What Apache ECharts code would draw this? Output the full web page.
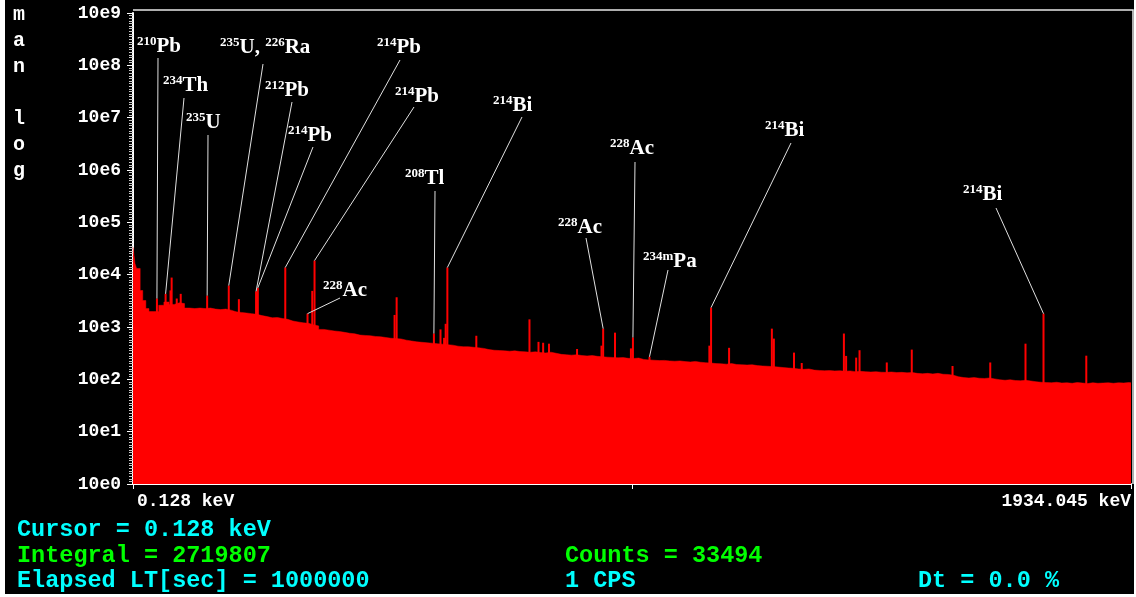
<!DOCTYPE html>
<html>
<head>
<meta charset="utf-8">
<script src="https://cdn.jsdelivr.net/npm/echarts@6/dist/echarts.min.js"></script>
<style>
  html, body { margin: 0; padding: 0; background: #fff; width: 1136px; height: 597px; overflow: hidden; }
  #chart { position: absolute; left: 5px; top: 0; width: 1129px; height: 594px; background: #000; }
</style>
</head>
<body>
<div id="chart"></div>
<script>
// Energy range of the spectrum (keV)
const E_MIN = 0.128;
const E_MAX = 1934.045;

// First few channels (left bin edge in keV, counts)
const lowEdgeEnergy = [0.128, 4, 7, 14, 19, 25, 31];
const lowEdgeCounts = [33494, 16400, 13150, 4980, 3200, 2250, 1970];

// Continuum, 10 keV bins starting at 40 keV (counts per bin)
const binStart = 40;
const binWidth = 10;
const binCounts = [
  1970, 2600, 3000, 2700, 2900, 2800, 2300, 2250, 2300, 2250,
  2300, 2200, 2150, 2200, 2100, 1950, 1900, 1850, 1800, 1750,
  1650, 1580, 1500, 1520, 1450, 1400, 1300, 1250, 1200, 1180,
  1100, 1050, 900, 870, 840, 820, 790, 760, 740, 700,
  690, 680, 660, 650, 630, 610, 600, 590, 560, 540,
  520, 510, 500, 490, 480, 470, 460, 450, 430, 420,
  420, 410, 400, 390, 370, 360, 355, 350, 345, 350,
  340, 335, 330, 335, 325, 320, 330, 315, 300, 295,
  290, 295, 285, 280, 285, 275, 270, 265, 262, 258,
  260, 252, 250, 255, 240, 235, 232, 228, 230, 225,
  222, 225, 218, 215, 220, 212, 208, 205, 200, 198,
  195, 200, 192, 190, 188, 190, 183, 180, 178, 175,
  172, 168, 165, 162, 158, 155, 158, 150, 148, 146,
  147, 145, 146, 143, 145, 140, 142, 140, 138, 140,
  137, 136, 138, 135, 136, 133, 135, 130, 128, 130,
  127, 130, 125, 124, 120, 112, 108, 106, 108, 105,
  104, 106, 102, 98, 96, 98, 95, 94, 96, 93,
  90, 88, 87, 86, 88, 85, 86, 84, 87, 85,
  83, 86, 84, 85, 86, 84, 86, 85, 87, 86
];

// Photopeaks (keV, peak-channel counts)
const peakEnergy = [
  46.5, 63.3, 72.8, 75.0, 84.9, 92.6, 143.8, 185.7, 205.3, 238.6,
  242.0, 295.2, 338.3, 347.5, 351.9, 507.0, 511.0, 583.2, 596.0, 603.0,
  606.0, 609.3, 665.4, 768.4, 785.9, 794.9, 806.2, 860.6, 908.0, 911.2,
  934.1, 965.0, 968.9, 1001.0, 1117.0, 1120.3, 1155.2, 1238.1, 1242.0, 1281.0,
  1296.0, 1377.7, 1382.0, 1401.5, 1408.0, 1460.8, 1509.2, 1588.2, 1661.3, 1729.6,
  1764.5, 1847.4
];
const peakCounts = [
  3500, 4300, 5000, 8800, 3500, 4300, 3970, 6200, 3400, 4800,
  5600, 13700, 1800, 4900, 18600, 1700, 3700, 750, 900, 620,
  1150, 13700, 680, 1400, 520, 500, 480, 380, 440, 930,
  780, 390, 630, 270, 440, 2350, 400, 930, 600, 324,
  205, 750, 280, 260, 360, 210, 370, 180, 210, 480,
  1800, 283
];

// Identified nuclides: peak energy and [mass number, symbol] parts
const labelEnergy = [46.5, 63.3, 143.8, 185.7, 238.6, 242.0, 295.2, 351.9, 338.3, 583.2, 609.3, 911.2, 968.9, 1001.0, 1120.3, 1764.5];
const labelParts = [
  [['210', 'Pb']], [['234', 'Th']], [['235', 'U']], [['235', 'U, '], ['226', 'Ra']],
  [['212', 'Pb']], [['214', 'Pb']], [['214', 'Pb']], [['214', 'Pb']],
  [['228', 'Ac']], [['208', 'Tl']], [['214', 'Bi']], [['228', 'Ac']],
  [['228', 'Ac']], [['234m', 'Pa']], [['214', 'Bi']], [['214', 'Bi']]
];
// Label placement in pixels: [text left, text middle, leader top x, leader top y]
const labelLayout = [
  [132, 46, 153, 58], [158, 85, 179, 98], [181, 122, 203, 135], [215, 47, 258, 64],
  [260, 90, 287, 102], [283, 135, 308, 147], [372, 47, 395, 60], [390, 96, 409, 107],
  [318, 290, 335, 298], [400, 178, 430, 191], [488, 105, 517, 117], [553, 227, 581, 238],
  [605, 148, 630, 162], [638, 261, 663, 270], [760, 130, 786, 143], [958, 194, 991, 208]
];

// Build the stepped continuum
const continuum = [];
lowEdgeEnergy.forEach((e, i) => continuum.push([e, lowEdgeCounts[i]]));
binCounts.forEach((c, i) => continuum.push([binStart + i * binWidth, c]));
continuum.push([E_MAX, binCounts[binCounts.length - 1]]);

const peaks = peakEnergy.map((e, i) => [e, peakCounts[i]]);
const labelData = labelEnergy.map((e, i) => [e, peakCounts[peakEnergy.indexOf(e)], i]);

const RED = '#ff0000';
const MONO = 'Liberation Mono';
const SERIF = 'Liberation Serif';

const supStyle = { fontFamily: SERIF, fontWeight: 'bold', fontSize: 13, lineHeight: 13, verticalAlign: 'top', fill: '#ffffff' };
const mainStyle = { fontFamily: SERIF, fontWeight: 'bold', fontSize: 21, lineHeight: 22, verticalAlign: 'bottom', fill: '#ffffff' };

function infoText(x, y, text, color) {
  return {
    type: 'text', x: x, y: y, silent: true,
    style: { text: text, fill: color, font: 'bold 23.5px "' + MONO + '"', align: 'left', verticalAlign: 'middle' }
  };
}

const chart = echarts.init(document.getElementById('chart'), null, { renderer: 'canvas' });

chart.setOption({
  backgroundColor: '#000',
  animation: false,
  grid: { left: 128, right: 1, top: 13, bottom: 110, containLabel: false },
  xAxis: {
    type: 'value',
    min: E_MIN,
    max: E_MAX,
    axisLine: { show: true, lineStyle: { color: '#ffffff', width: 2 } },
    axisTick: { show: true, customValues: [E_MIN, (E_MIN + E_MAX) / 2, E_MAX], length: 5, lineStyle: { color: '#ffffff', width: 1 } },
    axisLabel: {
      show: true,
      customValues: [E_MIN, E_MAX],
      formatter: v => v.toFixed(3) + ' keV',
      alignMinLabel: 'left',
      alignMaxLabel: 'right',
      padding: [0, 0, 0, 4],
      color: '#ffffff', fontFamily: MONO, fontWeight: 'bold', fontSize: 18, margin: 8
    },
    splitLine: { show: false }
  },
  yAxis: [
    {
      type: 'log',
      logBase: 10,
      min: 1,
      max: 1e9,
      splitNumber: 9,
      axisLine: { show: true, lineStyle: { color: '#ffffff', width: 2 } },
      axisTick: { show: true, length: 6, lineStyle: { color: '#ffffff', width: 1 } },
      splitLine: { show: false },
      axisLabel: {
        color: '#ffffff', fontFamily: MONO, fontWeight: 'bold', fontSize: 18, margin: 12,
        formatter: v => '10e' + Math.round(Math.log10(v))
      }
    },
    {
      // decade scale used only for the fine ruler marks along the count axis
      type: 'value',
      position: 'left',
      min: 0,
      max: 9,
      interval: 1,
      axisLine: { show: false },
      axisTick: { show: false },
      axisLabel: { show: false },
      splitLine: { show: false },
      minorTick: { show: true, splitNumber: 20, length: 4, lineStyle: { color: '#c8c8c8', width: 1 } },
      minorSplitLine: { show: false }
    }
  ],
  series: [
    {
      name: 'continuum',
      type: 'line',
      data: continuum,
      step: 'end',
      showSymbol: false,
      symbol: 'none',
      sampling: 'none',
      lineStyle: { width: 0.5, color: RED },
      areaStyle: { color: RED, opacity: 1, origin: 'start' },
      z: 2,
      silent: true
    },
    {
      name: 'peaks',
      type: 'bar',
      data: peaks,
      barWidth: 2,
      itemStyle: { color: RED },
      z: 3,
      silent: true
    },
    {
      name: 'labels',
      type: 'custom',
      coordinateSystem: 'cartesian2d',
      data: labelData,
      encode: { x: 0, y: 1 },
      clip: false,
      silent: true,
      z: 10,
      renderItem: function (params, api) {
        const i = api.value(2);
        const top = api.coord([api.value(0), api.value(1)]);
        const L = labelLayout[i];
        const text = labelParts[i].map(p => '{s|' + p[0] + '}{m|' + p[1] + '}').join('');
        return {
          type: 'group',
          children: [
            { type: 'line', shape: { x1: L[2], y1: L[3], x2: top[0], y2: top[1] }, style: { stroke: '#e0e0e0', lineWidth: 1 } },
            { type: 'text', x: L[0], y: L[1], style: { text: text, rich: { s: supStyle, m: mainStyle }, align: 'left', verticalAlign: 'middle', fill: '#ffffff' } }
          ]
        };
      }
    }
  ],
  graphic: [
    // plot frame (top and right edges)
    { type: 'polyline', silent: true, shape: { points: [[128, 10], [1128, 10], [1128, 484]] }, style: { stroke: '#e8e8e8', lineWidth: 1.5, fill: null } },
    // scale mode indicator
    { type: 'text', x: 14, y: 2, silent: true, style: { text: 'm\na\nn\n\nl\no\ng', fill: '#ffffff', font: 'bold 20px "' + MONO + '"', lineHeight: 26, align: 'center', verticalAlign: 'top' } },
    infoText(12, 530, 'Cursor = ' + E_MIN.toFixed(3) + ' keV', '#00ffff'),
    infoText(12, 556, 'Integral = 2719807', '#00ff00'),
    infoText(12, 581, 'Elapsed LT[sec] = 1000000', '#00ffff'),
    infoText(560, 556, 'Counts = ' + lowEdgeCounts[0], '#00ff00'),
    infoText(560, 581, '1 CPS', '#00ffff'),
    infoText(913, 581, 'Dt = 0.0 %', '#00ffff')
  ]
});
</script>
</body>
</html>
